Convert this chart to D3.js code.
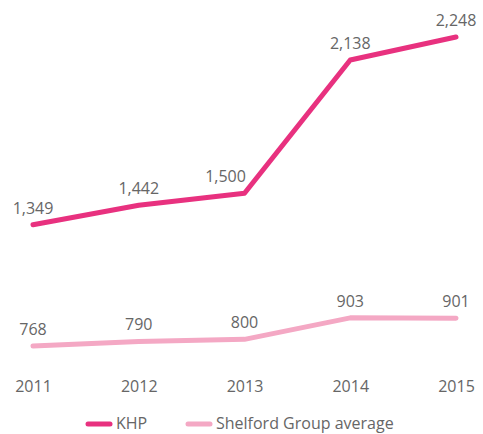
<!DOCTYPE html>
<html>
<head>
<meta charset="utf-8">
<script src="https://cdn.jsdelivr.net/npm/d3@7"></script>
<style>
  body { margin: 0; background: #fff; }
  svg text { font-family: "Open Sans", sans-serif; fill: #666; }
</style>
</head>
<body>
<div id="chart"></div>
<script>
// Data
const years = ['2011', '2012', '2013', '2014', '2015'];
const khp = [1349, 1442, 1500, 2138, 2248];
const shelford = [768, 790, 800, 903, 901];

const seriesNames = ['KHP', 'Shelford Group average'];
const seriesColors = ['#e8317f', '#f4a8c4'];

function createLineChart() {
    const width = 483, height = 434;

    const svg = d3.select('#chart').append('svg')
        .attr('width', width)
        .attr('height', height);

    // x positions of the years
    const xScale = d3.scalePoint()
        .domain(years)
        .range([33, 456]);

    const yScale = d3.scaleLinear()
        .domain([0, 2400])
        .range([506.4, 5.3]);

    const series = [khp, shelford];

    const line = d3.line()
        .x((d, i) => xScale(years[i]))
        .y(d => yScale(d));

    // Year labels along the bottom (no axis line)
    const xAxis = svg.append('g')
        .attr('transform', 'translate(0,392)')
        .call(d3.axisBottom(xScale).tickSize(0).tickPadding(0));
    xAxis.select('.domain').remove();
    xAxis.selectAll('text')
        .attr('dy', 0)
        .style('font-size', '16px')
        .style('fill', '#666');

    series.forEach((values, s) => {
        svg.append('path')
            .datum(values)
            .attr('fill', 'none')
            .attr('stroke', seriesColors[s])
            .attr('stroke-width', 5)
            .attr('stroke-linecap', 'round')
            .attr('stroke-linejoin', 'round')
            .attr('d', line);

        svg.selectAll('.label-' + s)
            .data(values)
            .enter()
            .append('text')
            .attr('class', 'label-' + s)
            .attr('x', (d, i) => {
                // nudge the label left when the line climbs steeply right after it
                const next = values[i + 1];
                const steep = next !== undefined && yScale(d) - yScale(next) > 60;
                return xScale(years[i]) + (steep ? -19 : 0);
            })
            .attr('y', d => yScale(d) - 11)
            .attr('text-anchor', 'middle')
            .style('font-size', '16px')
            .text(d => d3.format(',')(d));
    });

    // Legend (kept a little above the bottom edge so descenders show)
    const legendX = [88, 188];
    const legend = svg.append('g')
        .attr('transform', 'translate(0,424)');

    legend.selectAll('line')
        .data(seriesNames)
        .enter()
        .append('line')
        .attr('x1', (d, i) => legendX[i])
        .attr('x2', (d, i) => legendX[i] + 22)
        .attr('stroke', (d, i) => seriesColors[i])
        .attr('stroke-width', 5)
        .attr('stroke-linecap', 'round');

    legend.selectAll('text')
        .data(seriesNames)
        .enter()
        .append('text')
        .attr('x', (d, i) => legendX[i] + 28)
        .attr('y', 5)
        .style('font-size', '16px')
        .text(d => d);
}

createLineChart();
</script>
</body>
</html>
